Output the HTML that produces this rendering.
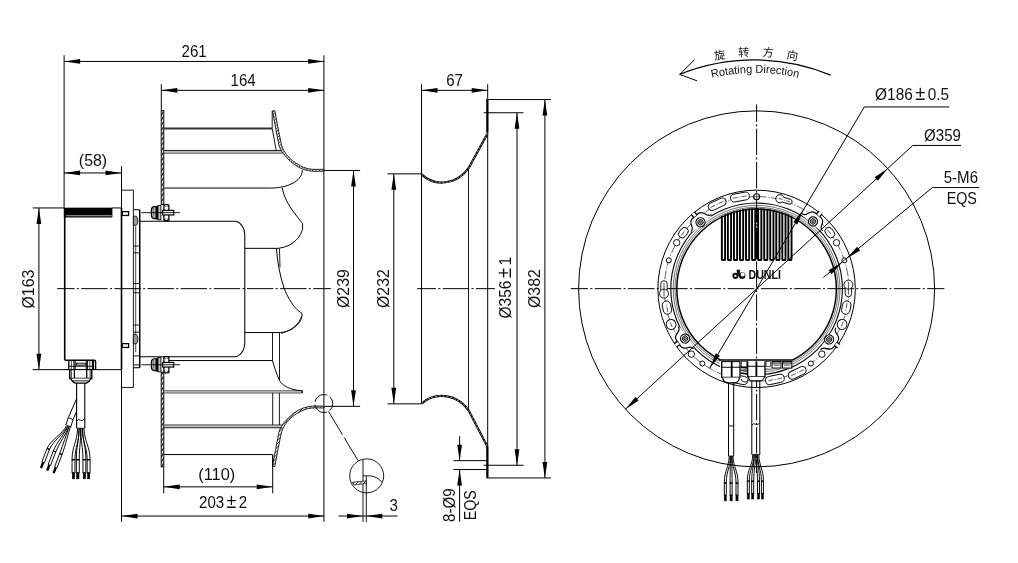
<!DOCTYPE html>
<html lang="zh">
<head>
<meta charset="utf-8">
<title>Fan dimension drawing</title>
<style>
html,body{margin:0;padding:0;background:#fff;}
body{width:1018px;height:563px;overflow:hidden;}
svg{display:block;}
svg text{font-family:"Liberation Sans","Noto Sans CJK SC",sans-serif;fill:#111;stroke:none;}
svg text.cjk{font-family:"Liberation Sans","Noto Sans CJK SC",sans-serif;}
</style>
</head>
<body>
<svg style="will-change:transform" width="1018" height="563" viewBox="0 0 1018 563" stroke="#000" fill="none" stroke-linecap="butt">
<defs>
<pattern id="hv" x="161" y="110.4" width="2.7" height="5.1" patternUnits="userSpaceOnUse"><rect width="2.7" height="5.1" fill="#fff" stroke="none"/><path d="M-0.3 5.6 L3.0 -0.5" stroke="#000" stroke-width="1.0"/></pattern>
<pattern id="hd" width="3.4" height="3.4" patternUnits="userSpaceOnUse"><rect width="3.4" height="3.4" fill="#fff" stroke="none"/><path d="M-0.5 3.9 L3.9 -0.5" stroke="#000" stroke-width="0.85"/></pattern>
</defs>
<rect x="0" y="0" width="1018" height="563" fill="#fff" stroke="none"/>
<g id="all" transform="translate(0.1 0.25)">
<g id="side">
<line x1="57.00" y1="288.40" x2="330.80" y2="288.40" stroke-width="1.00" stroke-dasharray="26.4 2.35 2.04 2.35" stroke-dashoffset="9.0"/>
<line x1="64.00" y1="55.00" x2="64.00" y2="207.50" stroke-width="1.00" />
<line x1="323.80" y1="55.00" x2="323.80" y2="521.50" stroke-width="1.00" />
<line x1="161.20" y1="84.00" x2="161.20" y2="110.20" stroke-width="1.00" />
<line x1="121.40" y1="166.00" x2="121.40" y2="521.50" stroke-width="1.00" />
<line x1="163.60" y1="467.00" x2="163.60" y2="493.00" stroke-width="1.00" />
<line x1="272.60" y1="455.00" x2="272.60" y2="493.00" stroke-width="1.00" />
<line x1="32.60" y1="207.70" x2="64.00" y2="207.70" stroke-width="1.00" />
<line x1="32.60" y1="369.40" x2="121.40" y2="369.40" stroke-width="1.00" />
<line x1="324.10" y1="170.20" x2="360.00" y2="170.20" stroke-width="1.00" />
<line x1="324.10" y1="406.10" x2="360.00" y2="406.10" stroke-width="1.00" />
<line x1="64.00" y1="61.20" x2="324.10" y2="61.20" stroke-width="1.00" />
<polygon points="64.00,61.20 80.00,58.80 80.00,63.60" fill="#000" stroke="none"/>
<polygon points="324.10,61.20 308.10,63.60 308.10,58.80" fill="#000" stroke="none"/>
<line x1="161.20" y1="90.10" x2="324.10" y2="90.10" stroke-width="1.00" />
<polygon points="161.20,90.10 177.20,87.70 177.20,92.50" fill="#000" stroke="none"/>
<polygon points="324.10,90.10 308.10,92.50 308.10,87.70" fill="#000" stroke="none"/>
<line x1="64.00" y1="172.70" x2="121.40" y2="172.70" stroke-width="1.00" />
<polygon points="64.00,172.70 80.00,170.30 80.00,175.10" fill="#000" stroke="none"/>
<polygon points="121.40,172.70 105.40,175.10 105.40,170.30" fill="#000" stroke="none"/>
<line x1="163.60" y1="486.60" x2="272.60" y2="486.60" stroke-width="1.00" />
<polygon points="163.60,486.60 179.60,484.20 179.60,489.00" fill="#000" stroke="none"/>
<polygon points="272.60,486.60 256.60,489.00 256.60,484.20" fill="#000" stroke="none"/>
<line x1="121.40" y1="515.80" x2="324.10" y2="515.80" stroke-width="1.00" />
<polygon points="121.40,515.80 137.40,513.40 137.40,518.20" fill="#000" stroke="none"/>
<polygon points="324.10,515.80 308.10,518.20 308.10,513.40" fill="#000" stroke="none"/>
<line x1="38.80" y1="207.70" x2="38.80" y2="369.40" stroke-width="1.00" />
<polygon points="38.80,207.70 41.20,223.70 36.40,223.70" fill="#000" stroke="none"/>
<polygon points="38.80,369.40 36.40,353.40 41.20,353.40" fill="#000" stroke="none"/>
<line x1="353.40" y1="170.20" x2="353.40" y2="406.10" stroke-width="1.00" />
<polygon points="353.40,170.20 355.80,186.20 351.00,186.20" fill="#000" stroke="none"/>
<polygon points="353.40,406.10 351.00,390.10 355.80,390.10" fill="#000" stroke="none"/>
<text font-size="16.4" text-anchor="middle" transform="translate(194.00 56.60) scale(0.92 1)" >261</text>
<text font-size="16.4" text-anchor="middle" transform="translate(243.00 85.80) scale(0.92 1)" >164</text>
<text font-size="16.4" text-anchor="middle" transform="translate(92.90 165.30) scale(0.97 1)" >(58)</text>
<text font-size="16.4" text-anchor="middle" transform="translate(216.60 479.70) scale(1.0 1)" >(110)</text>
<text font-size="16.4" text-anchor="middle" transform="translate(223.00 508.20) scale(0.92 1)" >203<tspan dx="2.6" font-size="19.5">±</tspan><tspan dx="2.6">2</tspan></text>
<text font-size="16.4" text-anchor="middle" transform="translate(34.20 288.80) rotate(-90) scale(0.97 1)" >Ø163</text>
<text font-size="16.4" text-anchor="middle" transform="translate(349.00 288.30) rotate(-90) scale(0.97 1)" >Ø239</text>
<path d="M64.6 207.7 V360.0" stroke-width="1.60" fill="none" />
<line x1="121.40" y1="207.70" x2="121.40" y2="369.40" stroke-width="1.60" />
<rect x="64.00" y="207.70" width="48.00" height="9.20" stroke-width="0.50" fill="#000" />
<line x1="66.00" y1="215.50" x2="111.60" y2="215.50" stroke-width="0.70" stroke="#fff"/>
<line x1="112.00" y1="207.70" x2="121.40" y2="207.70" stroke-width="1.00" />
<rect x="122.20" y="211.40" width="6.30" height="3.80" stroke-width="1.30" fill="none" />
<rect x="122.20" y="343.40" width="6.30" height="3.80" stroke-width="1.30" fill="none" />
<path d="M121.4 189.9 H133.3 V387.2 H121.4" stroke-width="0.90" fill="none" />
<path d="M133.3 209.5 H139.5 V367.5 H133.3" stroke-width="1.00" fill="none" />
<line x1="139.60" y1="209.50" x2="139.60" y2="367.50" stroke-width="1.40" />
<line x1="135.60" y1="226.00" x2="135.60" y2="352.00" stroke-width="0.70" />
<path d="M133.3 215.9 H136.2 Q137.8 216.9 137.8 220.45 Q137.8 224.0 136.2 225.0 H133.3 Z" stroke-width="0.80" fill="#999" />
<path d="M133.3 334.3 H136.2 Q137.8 335.3 137.8 338.95000000000005 Q137.8 342.6 136.2 343.6 H133.3 Z" stroke-width="0.80" fill="#999" />
<line x1="133.30" y1="245.80" x2="139.50" y2="245.80" stroke-width="0.90" />
<line x1="133.30" y1="252.60" x2="139.50" y2="252.60" stroke-width="0.90" />
<line x1="133.30" y1="283.20" x2="139.50" y2="283.20" stroke-width="0.90" />
<line x1="133.30" y1="292.50" x2="139.50" y2="292.50" stroke-width="0.90" />
<line x1="133.30" y1="324.80" x2="139.50" y2="324.80" stroke-width="0.90" />
<line x1="133.30" y1="331.90" x2="139.50" y2="331.90" stroke-width="0.90" />
<line x1="133.30" y1="355.60" x2="139.50" y2="355.60" stroke-width="0.90" />
<line x1="133.30" y1="364.60" x2="139.50" y2="364.60" stroke-width="0.90" />
<path d="M64.8 360.0 H94.4 Q95.5 360.0 95.5 361.2 V369.0" stroke-width="1.40" fill="none" />
<line x1="68.70" y1="360.00" x2="68.70" y2="369.00" stroke-width="1.30" />
<line x1="71.30" y1="360.60" x2="71.30" y2="369.00" stroke-width="0.70" />
<line x1="73.90" y1="360.60" x2="73.90" y2="369.00" stroke-width="1.10" />
<line x1="75.10" y1="360.60" x2="75.10" y2="369.00" stroke-width="1.00" />
<line x1="86.20" y1="360.60" x2="86.20" y2="369.00" stroke-width="1.00" />
<line x1="87.20" y1="360.60" x2="87.20" y2="369.00" stroke-width="1.10" />
<line x1="89.70" y1="360.60" x2="89.70" y2="369.00" stroke-width="0.70" />
<line x1="92.30" y1="360.60" x2="92.30" y2="369.00" stroke-width="1.10" />
<line x1="93.40" y1="360.60" x2="93.40" y2="369.00" stroke-width="1.00" />
<rect x="76.30" y="362.90" width="9.00" height="2.00" stroke-width="0.80" fill="#ccc" />
<line x1="69.00" y1="366.00" x2="92.30" y2="366.00" stroke-width="0.90" />
<path d="M69.6 369.0 V378.2 H91.7 V369.0" stroke-width="1.40" fill="none" />
<line x1="64.00" y1="369.30" x2="96.00" y2="369.30" stroke-width="1.10" />
<line x1="71.20" y1="369.20" x2="71.20" y2="378.20" stroke-width="0.80" />
<line x1="74.30" y1="369.20" x2="74.30" y2="378.20" stroke-width="1.30" />
<line x1="86.60" y1="369.20" x2="86.60" y2="378.20" stroke-width="1.30" />
<line x1="90.10" y1="369.20" x2="90.10" y2="378.20" stroke-width="0.80" />
<path d="M70.6 378.2 Q71.6 381 75 382.9 H86.2 Q89.8 381 90.6 378.2" stroke-width="1.30" fill="#fff" />
<line x1="72.80" y1="380.60" x2="88.60" y2="380.60" stroke-width="0.90" />
<line x1="76.50" y1="382.90" x2="76.50" y2="428.00" stroke-width="1.10" />
<line x1="84.70" y1="382.90" x2="84.70" y2="428.00" stroke-width="1.10" />
<path d="M76.6 420.8 q2 -2.6 3.9 -0.8 q2 1.6 3.9 -1.6" stroke-width="0.90" fill="none" />
<line x1="76.60" y1="428.00" x2="84.40" y2="428.00" stroke-width="0.80" />
<path d="M77.55 428 C77.04 442 71.95 446 71.95 459.2" stroke-width="0.95" fill="none" />
<path d="M78.85 428 C79.36 442 74.85 446 74.85 459.2" stroke-width="0.95" fill="none" />
<rect x="71.95" y="459.20" width="2.90" height="13.40" stroke-width="0.95" fill="#fff" />
<line x1="71.80" y1="459.60" x2="75.00" y2="459.60" stroke-width="1.20" />
<rect x="72.20" y="472.60" width="2.40" height="6.00" stroke-width="0.50" fill="#000" />
<path d="M79.15 428 C78.64 442 76.25 446 76.25 459.2" stroke-width="0.95" fill="none" />
<path d="M80.45 428 C80.96 442 79.15 446 79.15 459.2" stroke-width="0.95" fill="none" />
<rect x="76.25" y="459.20" width="2.90" height="13.40" stroke-width="0.95" fill="#fff" />
<line x1="76.10" y1="459.60" x2="79.30" y2="459.60" stroke-width="1.20" />
<rect x="76.50" y="472.60" width="2.40" height="6.00" stroke-width="0.50" fill="#000" />
<path d="M80.95 428 C80.44 442 82.85 446 82.85 459.2" stroke-width="0.95" fill="none" />
<path d="M82.25 428 C82.76 442 85.75 446 85.75 459.2" stroke-width="0.95" fill="none" />
<rect x="82.85" y="459.20" width="2.90" height="13.40" stroke-width="0.95" fill="#fff" />
<line x1="82.70" y1="459.60" x2="85.90" y2="459.60" stroke-width="1.20" />
<rect x="83.10" y="472.60" width="2.40" height="6.00" stroke-width="0.50" fill="#000" />
<path d="M82.55 428 C82.04 442 87.05 446 87.05 459.2" stroke-width="0.95" fill="none" />
<path d="M83.85 428 C84.36 442 89.95 446 89.95 459.2" stroke-width="0.95" fill="none" />
<rect x="87.05" y="459.20" width="2.90" height="13.40" stroke-width="0.95" fill="#fff" />
<line x1="86.90" y1="459.60" x2="90.10" y2="459.60" stroke-width="1.20" />
<rect x="87.30" y="472.60" width="2.40" height="6.00" stroke-width="0.50" fill="#000" />
<path d="M76.5 398.5 L68.2 417.4 L65.8 424.6" stroke-width="1.00" fill="none" />
<path d="M76.5 411 L73.0 419.4 L70.6 426.6" stroke-width="1.00" fill="none" />
<path d="M68.2 417.4 L73.0 419.4 M65.8 424.6 L70.6 426.6" stroke-width="0.90" fill="none" />
<path d="M65.95 426 C63.45 433 50.19 439.78 46.98 448.19" stroke-width="0.95" fill="none" />
<path d="M67.25 426 C64.75 433 52.62 440.71 49.41 449.12" stroke-width="0.95" fill="none" />
<polygon points="49.41,449.12 44.25,462.66 41.82,461.73 46.98,448.19" fill="#fff" stroke-width="0.95"/>
<path d="M46.80 448.12 L49.60 449.19" stroke-width="1.20" fill="none" />
<path d="M43.04 462.20 L40.90 467.80" stroke-width="2.40" fill="none" />
<path d="M67.65 426 C65.15 433 56.39 442.38 53.18 450.79" stroke-width="0.95" fill="none" />
<path d="M68.95 426 C66.45 433 58.82 443.31 55.61 451.72" stroke-width="0.95" fill="none" />
<polygon points="55.61,451.72 50.45,465.26 48.02,464.33 53.18,450.79" fill="#fff" stroke-width="0.95"/>
<path d="M53.00 450.72 L55.80 451.79" stroke-width="1.20" fill="none" />
<path d="M49.24 464.80 L47.10 470.40" stroke-width="2.40" fill="none" />
<path d="M69.25 426 C66.75 433 62.79 444.88 59.58 453.29" stroke-width="0.95" fill="none" />
<path d="M70.55 426 C68.05 433 65.22 445.81 62.01 454.22" stroke-width="0.95" fill="none" />
<polygon points="62.01,454.22 56.85,467.76 54.42,466.83 59.58,453.29" fill="#fff" stroke-width="0.95"/>
<path d="M59.40 453.22 L62.20 454.29" stroke-width="1.20" fill="none" />
<path d="M55.64 467.30 L53.50 472.90" stroke-width="2.40" fill="none" />
<path d="M139.6 220.9 H234.4 A10.3 14.5 0 0 1 244.7 235.4 V342 A10.3 14.5 0 0 1 234.4 356.5 H139.6" stroke-width="1.05" fill="none" />
</g>
<g id="imp">
<rect x="161.1" y="110.4" width="2.6" height="94" fill="url(#hv)" stroke-width="0.95"/>
<rect x="161.1" y="372" width="2.6" height="94.6" fill="url(#hv)" stroke-width="0.95"/>
<line x1="164.00" y1="128.30" x2="272.10" y2="128.30" stroke-width="1.90" stroke="#333"/>
<line x1="164.00" y1="150.20" x2="282.50" y2="150.20" stroke-width="0.90" />
<line x1="164.00" y1="152.80" x2="282.50" y2="152.80" stroke-width="0.90" />
<line x1="164.00" y1="151.50" x2="282.00" y2="151.50" stroke-width="1.40" stroke="#bbb"/>
<path d="M164 187.8 H271.3 C285 187.8 302.2 182 302.2 169.9" stroke-width="1.00" fill="none" />
<path d="M272.1 110.6 V128.3 L276.1 150.2" stroke-width="0.90" fill="none" />
<path d="M274.7 110.40 L277.7 126.70 L280.9 142.60 C282.5 150.00 286 155.00 292.6 160.50 C299 165.50 306 169.10 314 169.10 L323.8 169.10 L323.8 171.00 L314 171.00 C305 170.80 297 167.20 290.4 161.20 C284.5 155.60 280.6 151.00 278.8 144.80 L275.5 127.70 L272.4 110.70 Z" stroke-width="0.85" fill="url(#hd)" />
<path d="M274.7 466.40 L277.7 450.10 L280.9 434.20 C282.5 426.80 286 421.80 292.6 416.30 C299 411.30 306 407.70 314 407.70 L323.8 407.70 L323.8 405.80 L314 405.80 C305 406.00 297 409.60 290.4 415.60 C284.5 421.20 280.6 425.80 278.8 432.00 L275.5 449.10 L272.4 466.10 Z" stroke-width="0.85" fill="url(#hd)" />
<path d="M282 187.6 C283.2 192 284.5 196.5 286.3 200 C288.5 204.5 291 208.5 294.3 212.8 L302.3 223.2 C302.8 227 302.6 229 302 230.4 C300.5 234.5 298.5 237.5 295.9 240 C293.5 242.3 291 244 287.9 245.5 C285 246.8 281.5 247.7 278.3 248.1 H244.7" stroke-width="1.00" fill="none" />
<path d="M276.4 248.3 C277.2 262 280 276 284 288 C287 296 292 304 295.4 307.7 C297.5 310 300 312 301.8 313 C302.6 318 299 324 293.3 328 C289 330.8 284 332 280.5 332.3 H244.7" stroke-width="1.00" fill="none" />
<path d="M279.4 248.3 L279.9 267" stroke-width="0.90" fill="none" />
<path d="M301.4 316 C299.4 323.5 291 330.6 281 333.2" stroke-width="0.80" fill="none" />
<line x1="272.40" y1="332.40" x2="272.40" y2="360.30" stroke-width="0.90" />
<line x1="279.40" y1="332.40" x2="279.40" y2="380.20" stroke-width="0.90" />
<path d="M164 360.3 H272.4 C273.6 365 276.6 374.4 279.4 380.2 C282 385.4 290 389.8 302 390.5" stroke-width="1.00" fill="none" />
<line x1="164.00" y1="390.70" x2="302.20" y2="390.70" stroke-width="0.90" />
<line x1="164.00" y1="392.60" x2="302.20" y2="392.60" stroke-width="0.90" />
<line x1="164.00" y1="391.65" x2="301.00" y2="391.65" stroke-width="1.20" stroke="#bbb"/>
<line x1="302.20" y1="390.30" x2="302.20" y2="392.80" stroke-width="1.00" />
<line x1="272.60" y1="392.60" x2="272.60" y2="424.80" stroke-width="0.90" />
<line x1="279.30" y1="392.60" x2="279.30" y2="424.80" stroke-width="0.90" />
<line x1="164.00" y1="424.80" x2="282.00" y2="424.80" stroke-width="0.90" />
<line x1="164.00" y1="427.50" x2="282.00" y2="427.50" stroke-width="0.90" />
<line x1="164.00" y1="426.15" x2="281.50" y2="426.15" stroke-width="1.40" stroke="#bbb"/>
<line x1="164.00" y1="454.30" x2="272.60" y2="454.30" stroke-width="1.00" />
<line x1="272.60" y1="454.30" x2="272.60" y2="466.40" stroke-width="1.00" />
<path d="M156.1 206.4 H154 Q151.3 207.0 151.3 209.9 V214.9 Q151.3 217.8 154 218.4 H156.1 Z" stroke-width="1.20" fill="#b0b0b0" />
<line x1="153.40" y1="206.80" x2="153.40" y2="218.00" stroke-width="0.60" stroke="#666"/>
<rect x="156.10" y="206.00" width="1.70" height="12.80" stroke-width="0.60" fill="#000" />
<rect x="157.90" y="205.30" width="2.90" height="14.20" stroke-width="0.90" fill="#ccc" />
<rect x="163.80" y="204.30" width="5.00" height="16.20" stroke-width="1.30" fill="#fff" rx="1.2"/>
<path d="M164 204.8 l1.6 1.6 M164 220.0 l1.6 -1.6 M168.6 204.8 l-1.6 1.6 M168.6 220.0 l-1.6 -1.6" stroke-width="0.90" fill="none" />
<rect x="162.60" y="210.10" width="11.00" height="4.60" stroke-width="1.20" fill="#fff" />
<line x1="141.20" y1="212.40" x2="179.80" y2="212.40" stroke-width="0.90" />
<path d="M156.1 358.5 H154 Q151.3 359.1 151.3 362.0 V367.0 Q151.3 369.9 154 370.5 H156.1 Z" stroke-width="1.20" fill="#b0b0b0" />
<line x1="153.40" y1="358.90" x2="153.40" y2="370.10" stroke-width="0.60" stroke="#666"/>
<rect x="156.10" y="358.10" width="1.70" height="12.80" stroke-width="0.60" fill="#000" />
<rect x="157.90" y="357.40" width="2.90" height="14.20" stroke-width="0.90" fill="#ccc" />
<rect x="163.80" y="356.40" width="5.00" height="16.20" stroke-width="1.30" fill="#fff" rx="1.2"/>
<path d="M164 356.9 l1.6 1.6 M164 372.1 l1.6 -1.6 M168.6 356.9 l-1.6 1.6 M168.6 372.1 l-1.6 -1.6" stroke-width="0.90" fill="none" />
<rect x="162.60" y="362.20" width="11.00" height="4.60" stroke-width="1.20" fill="#fff" />
<line x1="141.20" y1="364.50" x2="179.80" y2="364.50" stroke-width="0.90" />
<circle cx="323.70" cy="403.30" r="9.00" stroke-width="0.95" fill="none" stroke-dasharray="16 2.85" stroke-dashoffset="8"/>
<line x1="328.40" y1="411.20" x2="358.20" y2="460.80" stroke-width="0.95" stroke-dasharray="27 3.6"/>
</g>
<g id="detail">
<circle cx="366.60" cy="475.60" r="17.00" stroke-width="0.90" fill="none" />
<line x1="362.90" y1="459.20" x2="362.90" y2="521.70" stroke-width="0.90" />
<line x1="366.20" y1="475.60" x2="366.20" y2="521.70" stroke-width="0.90" />
<path d="M362.9 475.6 H370 C375 476 379 478.5 382 482.2" stroke-width="0.90" fill="none" />
<path d="M352.2 482 L366.2 480.6 V483.2 L353.8 484.8 Z" stroke-width="0.70" fill="url(#hd)" />
<line x1="338.50" y1="515.80" x2="397.40" y2="515.80" stroke-width="1.00" />
<polygon points="362.90,515.80 346.90,518.20 346.90,513.40" fill="#000" stroke="none"/>
<polygon points="366.20,515.80 382.20,513.40 382.20,518.20" fill="#000" stroke="none"/>
<text font-size="16.4" text-anchor="middle" transform="translate(393.60 511.00) scale(0.92 1)" >3</text>
</g>
<g id="inlet">
<line x1="417.00" y1="288.40" x2="494.90" y2="288.40" stroke-width="1.00" stroke-dasharray="26.4 2.35 2.04 2.35" stroke-dashoffset="7.5"/>
<line x1="421.40" y1="84.00" x2="421.40" y2="403.60" stroke-width="1.00" />
<line x1="487.60" y1="84.00" x2="487.60" y2="477.70" stroke-width="1.00" />
<line x1="468.40" y1="167.20" x2="468.40" y2="409.80" stroke-width="0.90" />
<line x1="421.40" y1="90.10" x2="487.60" y2="90.10" stroke-width="1.00" />
<polygon points="421.40,90.10 437.40,87.70 437.40,92.50" fill="#000" stroke="none"/>
<polygon points="487.60,90.10 471.60,92.50 471.60,87.70" fill="#000" stroke="none"/>
<text font-size="16.4" text-anchor="middle" transform="translate(454.50 85.40) scale(0.92 1)" >67</text>
<line x1="487.20" y1="99.30" x2="487.20" y2="132.20" stroke-width="2.20" />
<line x1="487.20" y1="446.50" x2="487.20" y2="477.70" stroke-width="2.20" />
<path d="M421.4 174.10 C428 180.20 434 182.30 441 182.30 C452 182.30 461.5 177.70 468.6 167.70 L487.4 133.40" stroke-width="2.20" fill="none" stroke="#000"/>
<path d="M421.4 174.10 C428 180.20 434 182.30 441 182.30 C452 182.30 461.5 177.70 468.6 167.70 L487.4 133.40" stroke-width="0.70" fill="none" stroke="#ccc" stroke-dasharray="2.4 1.4"/>
<path d="M421.4 403.30 C428 397.70 434 395.70 441 395.70 C452 395.70 461.5 400.60 468.6 410.30 L487.4 446.50" stroke-width="2.20" fill="none" stroke="#000"/>
<path d="M421.4 403.30 C428 397.70 434 395.70 441 395.70 C452 395.70 461.5 400.60 468.6 410.30 L487.4 446.50" stroke-width="0.70" fill="none" stroke="#ccc" stroke-dasharray="2.4 1.4"/>
<line x1="387.40" y1="173.60" x2="421.40" y2="173.60" stroke-width="1.00" />
<line x1="387.40" y1="403.60" x2="421.40" y2="403.60" stroke-width="1.00" />
<line x1="393.70" y1="173.60" x2="393.70" y2="403.60" stroke-width="1.00" />
<polygon points="393.70,173.60 396.10,189.60 391.30,189.60" fill="#000" stroke="none"/>
<polygon points="393.70,403.60 391.30,387.60 396.10,387.60" fill="#000" stroke="none"/>
<text font-size="16.4" text-anchor="middle" transform="translate(389.20 288.30) rotate(-90) scale(0.97 1)" >Ø232</text>
<line x1="483.50" y1="112.50" x2="523.40" y2="112.50" stroke-width="1.00" />
<line x1="483.50" y1="465.00" x2="523.40" y2="465.00" stroke-width="1.00" />
<line x1="516.90" y1="112.50" x2="516.90" y2="465.00" stroke-width="1.00" />
<polygon points="516.90,112.50 519.30,128.50 514.50,128.50" fill="#000" stroke="none"/>
<polygon points="516.90,465.00 514.50,449.00 519.30,449.00" fill="#000" stroke="none"/>
<text font-size="16.4" text-anchor="middle" transform="translate(510.40 287.40) rotate(-90) scale(0.95 1)" >Ø356<tspan dx="2.6" font-size="19.5">±</tspan><tspan dx="2.6">1</tspan></text>
<line x1="486.40" y1="99.30" x2="550.90" y2="99.30" stroke-width="1.00" />
<line x1="486.40" y1="477.70" x2="550.90" y2="477.70" stroke-width="1.00" />
<line x1="544.80" y1="99.30" x2="544.80" y2="477.70" stroke-width="1.00" />
<polygon points="544.80,99.30 547.20,115.30 542.40,115.30" fill="#000" stroke="none"/>
<polygon points="544.80,477.70 542.40,461.70 547.20,461.70" fill="#000" stroke="none"/>
<text font-size="16.4" text-anchor="middle" transform="translate(540.30 288.30) rotate(-90) scale(0.97 1)" >Ø382</text>
<line x1="453.30" y1="460.40" x2="487.40" y2="460.40" stroke-width="1.00" />
<line x1="453.30" y1="469.30" x2="487.40" y2="469.30" stroke-width="1.00" />
<line x1="459.50" y1="436.00" x2="459.50" y2="460.40" stroke-width="1.00" />
<line x1="459.50" y1="469.30" x2="459.50" y2="521.40" stroke-width="1.00" />
<polygon points="459.50,460.40 457.10,444.40 461.90,444.40" fill="#000" stroke="none"/>
<polygon points="459.50,469.30 461.90,485.30 457.10,485.30" fill="#000" stroke="none"/>
<text font-size="16.4" text-anchor="middle" transform="translate(454.60 505.00) rotate(-90) scale(0.92 1)" >8-Ø9</text>
<text font-size="16.4" text-anchor="middle" transform="translate(476.20 505.00) rotate(-90) scale(0.87 1)" >EQS</text>
</g>
<g id="front">
<clipPath id="finclip"><circle cx="756.50" cy="288.60" r="80.9"/></clipPath>
<g clip-path="url(#finclip)" stroke="#000" stroke-width="1.9" fill="#fff">
<rect x="755.2" y="200" width="2.8" height="59" fill="#000" stroke="none"/>
<path d="M721.75 200 V258.9 Q721.75 259.8 722.65 259.8 H724.05 Q724.95 259.8 724.95 258.9 V200"/>
<path d="M788.25 200 V258.9 Q788.25 259.8 789.15 259.8 H790.55 Q791.45 259.8 791.45 258.9 V200"/>
<path d="M727.79 200 V258.9 Q727.79 259.8 728.69 259.8 H730.09 Q730.99 259.8 730.99 258.9 V200"/>
<path d="M782.21 200 V258.9 Q782.21 259.8 783.11 259.8 H784.51 Q785.41 259.8 785.41 258.9 V200"/>
<path d="M733.83 200 V258.9 Q733.83 259.8 734.73 259.8 H736.13 Q737.03 259.8 737.03 258.9 V200"/>
<path d="M776.17 200 V258.9 Q776.17 259.8 777.07 259.8 H778.47 Q779.37 259.8 779.37 258.9 V200"/>
<path d="M739.87 200 V258.9 Q739.87 259.8 740.77 259.8 H742.17 Q743.07 259.8 743.07 258.9 V200"/>
<path d="M770.13 200 V258.9 Q770.13 259.8 771.03 259.8 H772.43 Q773.33 259.8 773.33 258.9 V200"/>
<path d="M745.91 200 V258.9 Q745.91 259.8 746.81 259.8 H748.21 Q749.11 259.8 749.11 258.9 V200"/>
<path d="M764.09 200 V258.9 Q764.09 259.8 764.99 259.8 H766.39 Q767.29 259.8 767.29 258.9 V200"/>
<path d="M751.95 200 V258.9 Q751.95 259.8 752.85 259.8 H754.25 Q755.15 259.8 755.15 258.9 V200"/>
<path d="M758.05 200 V258.9 Q758.05 259.8 758.95 259.8 H760.35 Q761.25 259.8 761.25 258.9 V200"/>
</g>
<circle cx="756.50" cy="288.60" r="178.00" stroke-width="1.00" fill="none" />
<circle cx="756.50" cy="288.60" r="98.70" stroke-width="1.00" fill="none" />
<circle cx="756.50" cy="288.60" r="85.80" stroke-width="1.10" fill="none" />
<circle cx="756.50" cy="288.60" r="83.40" stroke-width="0.55" fill="none" />
<circle cx="756.50" cy="288.60" r="81.60" stroke-width="0.55" fill="none" />
<circle cx="756.50" cy="288.60" r="79.80" stroke-width="1.50" fill="none" />
<line x1="570.70" y1="288.40" x2="944.30" y2="288.40" stroke-width="1.00" stroke-dasharray="26.5 2.35 2.04 2.35" stroke-dashoffset="9.3"/>
<line x1="756.50" y1="104.20" x2="756.50" y2="472.80" stroke-width="1.00" stroke-dasharray="26.4 2.35 2.05 2.35" stroke-dashoffset="8.85"/>
<rect x="756.1" y="222.4" width="1" height="1.8" fill="#fff" stroke="none"/>
<rect x="756.1" y="225.6" width="1" height="1.8" fill="#fff" stroke="none"/>
<circle cx="756.50" cy="288.60" r="92.30" stroke-width="0.60" fill="none" stroke-dasharray="9 1.6 1.4 1.6"/>
<g transform="translate(663.90 293.2)"><rect x="-3.2" y="-12.7" width="6.4" height="14" rx="3.2" fill="#fff" stroke-width="0.9"/><circle cx="0" cy="0.2" r="4.5" fill="#fff" stroke-width="0.9"/><line x1="0" y1="-10.5" x2="0" y2="3" stroke-width="0.7"/></g>
<g transform="translate(848.30 284.6) rotate(180)"><rect x="-3.2" y="-11.9" width="6.4" height="13" rx="3.2" fill="#fff" stroke-width="0.9"/><circle cx="0" cy="0.2" r="4.5" fill="#fff" stroke-width="0.9"/><line x1="0" y1="-10" x2="0" y2="3" stroke-width="0.7"/></g>
<rect x="-5.60" y="-3.80" width="11.20" height="7.60" rx="3.80" stroke-width="0.9" fill="#fff" transform="translate(683.27 232.41) rotate(-52.5)"/>
<line x1="-3.40" y1="0" x2="3.40" y2="0" stroke-width="0.6" stroke-dasharray="5 1.5 1 1.5" transform="translate(683.27 232.41) rotate(-52.5)"/>
<circle cx="676.57" cy="242.45" r="3.20" stroke-width="0.90" fill="#fff" />
<circle cx="668.72" cy="260.08" r="2.50" stroke-width="1.00" fill="#fff" />
<rect x="-6.70" y="-4.20" width="13.40" height="8.40" rx="4.20" stroke-width="0.9" fill="#fff" transform="translate(666.84 307.33) rotate(-101.8)"/>
<line x1="-4.50" y1="0" x2="4.50" y2="0" stroke-width="0.6" stroke-dasharray="5 1.5 1 1.5" transform="translate(666.84 307.33) rotate(-101.8)"/>
<rect x="-5.10" y="-4.80" width="10.20" height="9.60" rx="4.80" stroke-width="0.9" fill="#fff" transform="translate(671.01 324.19) rotate(-112.6)"/>
<line x1="-2.90" y1="0" x2="2.90" y2="0" stroke-width="0.6" stroke-dasharray="5 1.5 1 1.5" transform="translate(671.01 324.19) rotate(-112.6)"/>
<circle cx="691.23" cy="353.87" r="3.20" stroke-width="0.90" fill="#fff" />
<circle cx="702.25" cy="363.27" r="2.50" stroke-width="1.00" fill="#fff" />
<rect x="-5.60" y="-3.80" width="11.20" height="7.60" rx="3.80" stroke-width="0.9" fill="#fff" transform="translate(829.73 232.41) rotate(52.5)"/>
<line x1="-3.40" y1="0" x2="3.40" y2="0" stroke-width="0.6" stroke-dasharray="5 1.5 1 1.5" transform="translate(829.73 232.41) rotate(52.5)"/>
<circle cx="836.43" cy="242.45" r="3.20" stroke-width="0.90" fill="#fff" />
<circle cx="844.28" cy="260.08" r="2.50" stroke-width="1.00" fill="#fff" />
<rect x="-6.70" y="-4.20" width="13.40" height="8.40" rx="4.20" stroke-width="0.9" fill="#fff" transform="translate(846.16 307.33) rotate(101.8)"/>
<line x1="-4.50" y1="0" x2="4.50" y2="0" stroke-width="0.6" stroke-dasharray="5 1.5 1 1.5" transform="translate(846.16 307.33) rotate(101.8)"/>
<rect x="-5.10" y="-4.80" width="10.20" height="9.60" rx="4.80" stroke-width="0.9" fill="#fff" transform="translate(841.99 324.19) rotate(112.6)"/>
<line x1="-2.90" y1="0" x2="2.90" y2="0" stroke-width="0.6" stroke-dasharray="5 1.5 1 1.5" transform="translate(841.99 324.19) rotate(112.6)"/>
<circle cx="821.77" cy="353.87" r="3.20" stroke-width="0.90" fill="#fff" />
<circle cx="810.75" cy="363.27" r="2.50" stroke-width="1.00" fill="#fff" />
<rect x="-9.50" y="-3.90" width="19.00" height="7.80" rx="3.90" stroke-width="0.9" fill="#fff" transform="translate(739.82 196.80) rotate(-10.3)"/>
<line x1="-7.30" y1="0" x2="7.30" y2="0" stroke-width="0.6" stroke-dasharray="5 1.5 1 1.5" transform="translate(739.82 196.80) rotate(-10.3)"/>
<rect x="-9.50" y="-3.90" width="19.00" height="7.80" rx="3.90" stroke-width="0.9" fill="#fff" transform="translate(717.07 204.04) rotate(-25.0)"/>
<line x1="-7.30" y1="0" x2="7.30" y2="0" stroke-width="0.6" stroke-dasharray="5 1.5 1 1.5" transform="translate(717.07 204.04) rotate(-25.0)"/>
<rect x="-9.50" y="-3.90" width="19.00" height="7.80" rx="3.90" stroke-width="0.9" fill="#fff" transform="translate(797.11 372.60) rotate(154.2)"/>
<line x1="-7.30" y1="0" x2="7.30" y2="0" stroke-width="0.6" stroke-dasharray="5 1.5 1 1.5" transform="translate(797.11 372.60) rotate(154.2)"/>
<rect x="-9.50" y="-4.10" width="19.00" height="8.20" rx="4.10" stroke-width="0.9" fill="#fff" transform="translate(774.76 379.18) rotate(168.6)"/>
<line x1="-7.30" y1="0" x2="7.30" y2="0" stroke-width="0.6" stroke-dasharray="5 1.5 1 1.5" transform="translate(774.76 379.18) rotate(168.6)"/>
<rect x="-9.50" y="-4.10" width="19.00" height="8.20" rx="4.10" stroke-width="0.9" fill="#fff" transform="translate(738.24 379.18) rotate(-168.6)"/>
<line x1="-7.30" y1="0" x2="7.30" y2="0" stroke-width="0.6" stroke-dasharray="5 1.5 1 1.5" transform="translate(738.24 379.18) rotate(-168.6)"/>
<g transform="translate(783.38 199.57) rotate(16.8)"><path d="M-0.5 -2.5 H6.4 A2.5 2.5 0 0 1 6.4 2.5 H-0.5 A4.1 4.1 0 1 1 -0.5 -2.5 Z" fill="#fff" stroke-width="0.9"/><line x1="-5" y1="0" x2="7" y2="0" stroke-width="0.6" stroke-dasharray="4 1.5 1 1.5"/></g>
<circle cx="756.50" cy="196.50" r="3.00" stroke-width="1.10" fill="#fff" />
<line x1="753.50" y1="196.50" x2="759.50" y2="196.50" stroke-width="0.60" />
<line x1="756.50" y1="193.50" x2="756.50" y2="199.50" stroke-width="0.60" />
<g transform="translate(700.40 222.00) rotate(-40.1)">
<path d="M-12.5 1.2 Q-6 1.3 0 1.3 Q6 1.3 12.5 1.2" stroke="#fff" stroke-width="2.2"/>
<path d="M-13.4 1.0 C-10.6 1.2 -9.7 -0.6 -8.9 -3.2 C-7.9 -6.4 -6.6 -7.9 -4 -8.0 L4 -8.0 C6.6 -7.9 7.9 -6.4 8.9 -3.2 C9.7 -0.6 10.6 1.2 13.4 1.0" fill="#fff" stroke-width="1.15"/>
<rect x="-2.1" y="-11.6" width="4.2" height="3.6" fill="#fff" stroke="none"/>
<path d="M-2.1 -11.9 V-8 M2.1 -11.9 V-8" stroke-width="1.3"/>
<circle cx="0" cy="0" r="4.5" fill="#fff" stroke-width="1.2"/>
<circle cx="0" cy="0" r="2.7" fill="#ccc" stroke-width="0.9"/>
<circle cx="0" cy="0" r="1.3" fill="#999" stroke-width="0.6"/>
</g>
<g transform="translate(812.90 221.20) rotate(39.9)">
<path d="M-12.5 1.2 Q-6 1.3 0 1.3 Q6 1.3 12.5 1.2" stroke="#fff" stroke-width="2.2"/>
<path d="M-13.4 1.0 C-10.6 1.2 -9.7 -0.6 -8.9 -3.2 C-7.9 -6.4 -6.6 -7.9 -4 -8.0 L4 -8.0 C6.6 -7.9 7.9 -6.4 8.9 -3.2 C9.7 -0.6 10.6 1.2 13.4 1.0" fill="#fff" stroke-width="1.15"/>
<rect x="-2.1" y="-11.6" width="4.2" height="3.6" fill="#fff" stroke="none"/>
<path d="M-2.1 -11.9 V-8 M2.1 -11.9 V-8" stroke-width="1.3"/>
<circle cx="0" cy="0" r="4.5" fill="#fff" stroke-width="1.2"/>
<circle cx="0" cy="0" r="2.7" fill="#ccc" stroke-width="0.9"/>
<circle cx="0" cy="0" r="1.3" fill="#999" stroke-width="0.6"/>
</g>
<g transform="translate(685.00 338.30) rotate(-124.8)">
<path d="M-12.5 1.2 Q-6 1.3 0 1.3 Q6 1.3 12.5 1.2" stroke="#fff" stroke-width="2.2"/>
<path d="M-13.4 1.0 C-10.6 1.2 -9.7 -0.6 -8.9 -3.2 C-7.9 -6.4 -6.6 -7.9 -4 -8.0 L4 -8.0 C6.6 -7.9 7.9 -6.4 8.9 -3.2 C9.7 -0.6 10.6 1.2 13.4 1.0" fill="#fff" stroke-width="1.15"/>
<rect x="-2.1" y="-11.6" width="4.2" height="3.6" fill="#fff" stroke="none"/>
<path d="M-2.1 -11.9 V-8 M2.1 -11.9 V-8" stroke-width="1.3"/>
<circle cx="0" cy="0" r="4.5" fill="#fff" stroke-width="1.2"/>
<circle cx="0" cy="0" r="2.7" fill="#ccc" stroke-width="0.9"/>
<circle cx="0" cy="0" r="1.3" fill="#999" stroke-width="0.6"/>
</g>
<g transform="translate(829.00 339.20) rotate(124.9)">
<path d="M-12.5 1.2 Q-6 1.3 0 1.3 Q6 1.3 12.5 1.2" stroke="#fff" stroke-width="2.2"/>
<path d="M-13.4 1.0 C-10.6 1.2 -9.7 -0.6 -8.9 -3.2 C-7.9 -6.4 -6.6 -7.9 -4 -8.0 L4 -8.0 C6.6 -7.9 7.9 -6.4 8.9 -3.2 C9.7 -0.6 10.6 1.2 13.4 1.0" fill="#fff" stroke-width="1.15"/>
<rect x="-2.1" y="-11.6" width="4.2" height="3.6" fill="#fff" stroke="none"/>
<path d="M-2.1 -11.9 V-8 M2.1 -11.9 V-8" stroke-width="1.3"/>
<circle cx="0" cy="0" r="4.5" fill="#fff" stroke-width="1.2"/>
<circle cx="0" cy="0" r="2.7" fill="#ccc" stroke-width="0.9"/>
<circle cx="0" cy="0" r="1.3" fill="#999" stroke-width="0.6"/>
</g>
<g stroke="none" fill="#111">
<circle cx="735.3" cy="275.6" r="3.1"/><circle cx="742.0" cy="275.4" r="3.3"/>
<path d="M736.6 269.6 L739.8 269.2 L739.6 275.5 L736.9 275.5 Z"/>
<circle cx="735.3" cy="275.7" r="1.1" fill="#fff"/><circle cx="742.6" cy="274.3" r="2.0" fill="#fff"/>
</g>
<text x="748.4" y="278.4" font-size="12.2" font-weight="bold" textLength="32.4" lengthAdjust="spacingAndGlyphs" fill="#555" stroke="#000" stroke-width="1.0">DUNLI</text>
<g>
<path d="M719 359.6 H793 L790 368.2 H765 V376.6 H747.4 V361 H740.6 V378.6 H721.6 Z" fill="#fff" stroke="none"/>
<line x1="718.90" y1="359.70" x2="793.00" y2="359.70" stroke-width="1.50" />
<path d="M721.6 361 V377.2 H739.9 V361" stroke-width="1.30" fill="#fff" />
<line x1="721.60" y1="367.00" x2="739.90" y2="367.00" stroke-width="1.00" />
<line x1="731.60" y1="361.00" x2="731.60" y2="377.20" stroke-width="1.80" />
<path d="M722.4 377.2 Q723.2 382.6 728.3 382.6 H733.8 Q738.6 382.6 739.3 377.2" stroke-width="1.10" fill="#fff" />
<line x1="721.60" y1="361.40" x2="739.90" y2="361.40" stroke-width="1.00" />
<path d="M747.6 361 V376.5 H764.9 V361" stroke-width="1.30" fill="#fff" />
<line x1="747.60" y1="366.00" x2="764.90" y2="366.00" stroke-width="1.00" />
<line x1="756.30" y1="361.00" x2="756.30" y2="376.50" stroke-width="1.80" />
<path d="M748.3 376.5 Q749 380.6 751.7 380.6 H759.6 Q763.6 380.6 764.4 376.5" stroke-width="1.10" fill="#fff" />
<path d="M740.6 370 Q744 371 747.6 370 M740.6 372.6 Q744 373.6 747.6 372.6" stroke-width="0.70" fill="none" />
<path d="M741 378.5 Q742 382.5 746.2 381.6 Q748 381 748.2 378" stroke-width="0.90" fill="#fff" />
<rect x="771.90" y="361.20" width="9.00" height="6.60" stroke-width="1.00" fill="#fff" />
<rect x="782.40" y="361.20" width="9.30" height="6.60" stroke-width="1.00" fill="#fff" />
<rect x="772.60" y="362.20" width="7.60" height="1.60" stroke-width="0.30" fill="#888" />
<rect x="783.20" y="362.20" width="7.60" height="1.60" stroke-width="0.30" fill="#888" />
<line x1="773.50" y1="365.00" x2="779.50" y2="365.00" stroke-width="0.60" />
<line x1="784.00" y1="365.00" x2="790.00" y2="365.00" stroke-width="0.60" />
<rect x="741.50" y="361.30" width="5.20" height="5.20" stroke-width="0.60" fill="#fff" />
<rect x="766.00" y="361.30" width="4.60" height="5.20" stroke-width="0.60" fill="#fff" />
<line x1="728.40" y1="382.90" x2="728.40" y2="455.80" stroke-width="1.00" />
<line x1="733.60" y1="382.90" x2="733.60" y2="455.80" stroke-width="1.00" />
<line x1="728.40" y1="455.80" x2="733.60" y2="455.80" stroke-width="0.80" />
<path d="M728.4 426.6 q1.4 -2.2 2.6 -0.8 q1.3 1.4 2.6 -1.4" stroke-width="0.90" fill="none" />
<line x1="751.70" y1="380.60" x2="751.70" y2="454.30" stroke-width="1.00" />
<line x1="759.70" y1="380.60" x2="759.70" y2="454.30" stroke-width="1.00" />
<line x1="751.70" y1="454.30" x2="759.70" y2="454.30" stroke-width="0.80" />
<path d="M751.7 425 q2 -2.6 4 -1 q2 1.6 4 -1.6" stroke-width="0.90" fill="none" />
<path d="M729.10 455.8 C728.80 467.8 724.20 469.8 724.20 482.6" stroke-width="0.95" fill="none" />
<path d="M730.10 455.8 C730.40 467.8 726.20 469.8 726.20 482.6" stroke-width="0.95" fill="none" />
<rect x="724.20" y="482.60" width="2.00" height="12.40" stroke-width="0.95" fill="#fff" />
<line x1="723.90" y1="483.00" x2="726.50" y2="483.00" stroke-width="1.20" />
<rect x="724.10" y="494.80" width="2.20" height="5.80" stroke-width="0.50" fill="#000" />
<path d="M730.50 455.8 C730.20 467.8 730.00 469.8 730.00 482.6" stroke-width="0.95" fill="none" />
<path d="M731.50 455.8 C731.80 467.8 732.00 469.8 732.00 482.6" stroke-width="0.95" fill="none" />
<rect x="730.00" y="482.60" width="2.00" height="12.40" stroke-width="0.95" fill="#fff" />
<line x1="729.70" y1="483.00" x2="732.30" y2="483.00" stroke-width="1.20" />
<rect x="729.90" y="494.80" width="2.20" height="5.80" stroke-width="0.50" fill="#000" />
<path d="M731.90 455.8 C731.60 467.8 735.90 469.8 735.90 482.6" stroke-width="0.95" fill="none" />
<path d="M732.90 455.8 C733.20 467.8 737.90 469.8 737.90 482.6" stroke-width="0.95" fill="none" />
<rect x="735.90" y="482.60" width="2.00" height="12.40" stroke-width="0.95" fill="#fff" />
<line x1="735.60" y1="483.00" x2="738.20" y2="483.00" stroke-width="1.20" />
<rect x="735.80" y="494.80" width="2.20" height="5.80" stroke-width="0.50" fill="#000" />
<path d="M752.70 454.3 C752.40 466.3 747.20 468.3 747.20 480.8" stroke-width="0.95" fill="none" />
<path d="M753.70 454.3 C754.00 466.3 749.20 468.3 749.20 480.8" stroke-width="0.95" fill="none" />
<rect x="747.20" y="480.80" width="2.00" height="12.40" stroke-width="0.95" fill="#fff" />
<line x1="746.90" y1="481.20" x2="749.50" y2="481.20" stroke-width="1.20" />
<rect x="747.10" y="493.00" width="2.20" height="5.80" stroke-width="0.50" fill="#000" />
<path d="M754.30 454.3 C754.00 466.3 751.60 468.3 751.60 480.8" stroke-width="0.95" fill="none" />
<path d="M755.30 454.3 C755.60 466.3 753.60 468.3 753.60 480.8" stroke-width="0.95" fill="none" />
<rect x="751.60" y="480.80" width="2.00" height="12.40" stroke-width="0.95" fill="#fff" />
<line x1="751.30" y1="481.20" x2="753.90" y2="481.20" stroke-width="1.20" />
<rect x="751.50" y="493.00" width="2.20" height="5.80" stroke-width="0.50" fill="#000" />
<path d="M756.10 454.3 C755.80 466.3 757.40 468.3 757.40 480.8" stroke-width="0.95" fill="none" />
<path d="M757.10 454.3 C757.40 466.3 759.40 468.3 759.40 480.8" stroke-width="0.95" fill="none" />
<rect x="757.40" y="480.80" width="2.00" height="12.40" stroke-width="0.95" fill="#fff" />
<line x1="757.10" y1="481.20" x2="759.70" y2="481.20" stroke-width="1.20" />
<rect x="757.30" y="493.00" width="2.20" height="5.80" stroke-width="0.50" fill="#000" />
<path d="M757.70 454.3 C757.40 466.3 761.30 468.3 761.30 480.8" stroke-width="0.95" fill="none" />
<path d="M758.70 454.3 C759.00 466.3 763.30 468.3 763.30 480.8" stroke-width="0.95" fill="none" />
<rect x="761.30" y="480.80" width="2.00" height="12.40" stroke-width="0.95" fill="#fff" />
<line x1="761.00" y1="481.20" x2="763.60" y2="481.20" stroke-width="1.20" />
<rect x="761.20" y="493.00" width="2.20" height="5.80" stroke-width="0.50" fill="#000" />
</g>
<line x1="864.20" y1="106.70" x2="709.52" y2="368.05" stroke-width="1.00" />
<line x1="864.20" y1="106.70" x2="949.20" y2="106.70" stroke-width="1.00" />
<polygon points="803.43,209.24 797.35,224.23 793.22,221.79" fill="#000" stroke="none"/>
<polygon points="709.57,367.96 715.65,352.97 719.78,355.41" fill="#000" stroke="none"/>
<text font-size="16.4" text-anchor="start" transform="translate(875.00 99.60) scale(0.94 1)" >Ø186<tspan dx="2.6" font-size="19.5">±</tspan><tspan dx="2.6">0.5</tspan></text>
<line x1="912.70" y1="145.20" x2="625.37" y2="408.97" stroke-width="1.00" />
<line x1="912.70" y1="145.20" x2="961.00" y2="145.20" stroke-width="1.00" />
<polygon points="887.63,168.23 877.76,180.55 874.52,177.01" fill="#000" stroke="none"/>
<polygon points="625.37,408.97 635.24,396.65 638.48,400.19" fill="#000" stroke="none"/>
<text font-size="16.4" text-anchor="start" transform="translate(924.00 140.30) scale(0.92 1)" >Ø359</text>
<line x1="932.30" y1="187.30" x2="979.10" y2="187.30" stroke-width="1.00" />
<line x1="932.30" y1="187.30" x2="823.30" y2="277.20" stroke-width="1.00" />
<polygon points="846.21,258.49 857.03,246.46 860.08,250.16" fill="#000" stroke="none"/>
<polygon points="842.35,261.67 831.54,273.70 828.48,270.00" fill="#000" stroke="none"/>
<text font-size="16.4" text-anchor="start" transform="translate(943.60 183.00) scale(0.92 1)" >5-M6</text>
<text font-size="16.4" text-anchor="start" transform="translate(946.60 203.40) scale(0.87 1)" >EQS</text>
<path d="M679.6 74.2 A200 200 0 0 1 830.5 74.8" stroke-width="1.30" fill="none" />
<path d="M694.4 59.5 L679.6 74.2 L697 80.6" stroke-width="1.00" fill="none" />
<path id="arcT" d="M707 61.8 A204 204 0 0 1 804 61.8" fill="none" stroke="none"/>
<path id="arcB" d="M711.6 77.6 A190 190 0 0 1 799.4 77.8" fill="none" stroke="none"/>
<text font-size="11.2" class="cjk" text-anchor="middle" style="letter-spacing:12.7px"><textPath href="#arcT" startOffset="56.8%">旋转方向</textPath></text>
<text font-size="11.4" textLength="87.4" lengthAdjust="spacingAndGlyphs"><textPath href="#arcB" startOffset="0" textLength="87.4" lengthAdjust="spacingAndGlyphs">Rotating Direction</textPath></text>
</g>
</g>
</svg>
</body>
</html>
